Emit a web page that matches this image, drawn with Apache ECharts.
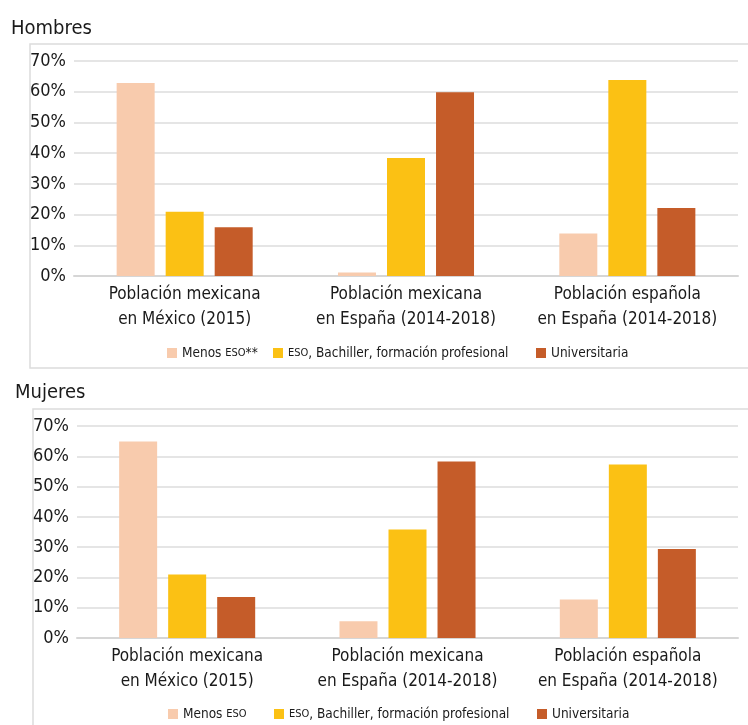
<!DOCTYPE html>
<html>
<head>
<meta charset="utf-8">
<script src="https://cdn.jsdelivr.net/npm/echarts@6/dist/echarts.min.js"></script>
<style>
  html, body { margin: 0; padding: 0; background: #fff; }
  #chart { width: 748px; height: 725px; }
</style>
</head>
<body>
<div id="chart"></div>
<script>
// datos
const categories = ['Población mexicana\nen México (2015)', 'Población mexicana\nen España (2014-2018)', 'Población española\nen España (2014-2018)']
const yTicks = [0, 10, 20, 30, 40, 50, 60, 70]
const seriesNamesH = ['Menos ESO**', 'ESO, Bachiller, formación profesional', 'Universitaria']
const seriesNamesM = ['Menos ESO', 'ESO, Bachiller, formación profesional', 'Universitaria']
const hombresMenosEso = [62.8, 1.1, 13.8]
const hombresEso = [20.9, 38.4, 63.8]
const hombresUniv = [15.9, 59.8, 22.1]
const mujeresMenosEso = [64.9, 5.5, 12.7]
const mujeresEso = [21.0, 35.8, 57.3]
const mujeresUniv = [13.5, 58.3, 29.4]

const colors = ['#F8CBAD', '#FBC114', '#C55C29']
const font = "'Liberation Sans Narrow', 'DejaVu Sans Condensed', sans-serif"

const chart = echarts.init(document.getElementById('chart'))

function yAxis(gridIndex) {
  return {
    type: 'value',
    gridIndex: gridIndex,
    min: yTicks[0],
    max: yTicks[yTicks.length - 1],
    interval: 10,
    axisLine: { show: false },
    axisTick: { show: false },
    axisLabel: { formatter: '{value}%', color: '#1a1a1a', fontSize: 18, fontFamily: font, margin: 8 },
    splitLine: { lineStyle: { color: '#dcdcdc', width: 1.5 } }
  }
}

function xAxis(gridIndex) {
  return {
    type: 'category',
    gridIndex: gridIndex,
    data: categories,
    axisLine: { lineStyle: { color: '#d6d6d6', width: 2 } },
    axisTick: { show: false },
    axisLabel: { interval: 0, color: '#1a1a1a', fontSize: 17, fontFamily: font, lineHeight: 25, margin: 6 }
  }
}

function bar(name, data, idx, color) {
  return {
    type: 'bar',
    name: name,
    xAxisIndex: idx,
    yAxisIndex: idx,
    data: data,
    barWidth: 38,
    barGap: '29%',
    itemStyle: { color: color },
    emphasis: { disabled: true }
  }
}

// una leyenda por elemento para colocarlos como en el original
function legend(name, left, top) {
  return {
    data: [name],
    left: left,
    top: top,
    itemWidth: 10,
    itemHeight: 10,
    itemGap: 6,
    icon: 'rect',
    selectedMode: false,
    textStyle: {
      color: '#1a1a1a', fontSize: 13.5, fontFamily: font,
      rich: { s: { fontSize: 11, fontFamily: font, color: '#1a1a1a' } }
    },
    formatter: (n) => n.replace(/ESO/, '{s|ESO}')
  }
}

const option = {
  animation: false,
  title: [
    { text: 'Hombres', left: 6, top: 14, textStyle: { fontSize: 20, fontWeight: 'normal', color: '#1a1a1a', fontFamily: font } },
    { text: 'Mujeres', left: 10, top: 378, textStyle: { fontSize: 20, fontWeight: 'normal', color: '#1a1a1a', fontFamily: font } }
  ],
  graphic: [
    { type: 'rect', shape: { x: 30, y: 44, width: 730, height: 324 }, style: { fill: 'none', stroke: '#dcdcdc', lineWidth: 1.5 }, silent: true },
    { type: 'rect', shape: { x: 33, y: 409, width: 730, height: 330 }, style: { fill: 'none', stroke: '#dcdcdc', lineWidth: 1.5 }, silent: true }
  ],
  grid: [
    { left: 74, right: 10, top: 61, height: 215 },
    { left: 77, right: 10, top: 426, height: 212 }
  ],
  legend: [
    legend(seriesNamesH[0], 162, 341),
    legend(seriesNamesH[1], 268, 341),
    legend(seriesNamesH[2], 531, 341),
    legend(seriesNamesM[0], 163, 702),
    legend(seriesNamesM[1], 269, 702),
    legend(seriesNamesM[2], 532, 702)
  ],
  xAxis: [xAxis(0), xAxis(1)],
  yAxis: [yAxis(0), yAxis(1)],
  series: [
    bar(seriesNamesH[0], hombresMenosEso, 0, colors[0]),
    bar(seriesNamesH[1], hombresEso, 0, colors[1]),
    bar(seriesNamesH[2], hombresUniv, 0, colors[2]),
    bar(seriesNamesM[0], mujeresMenosEso, 1, colors[0]),
    bar(seriesNamesM[1], mujeresEso, 1, colors[1]),
    bar(seriesNamesM[2], mujeresUniv, 1, colors[2])
  ]
}

chart.setOption(option)
</script>
</body>
</html>
